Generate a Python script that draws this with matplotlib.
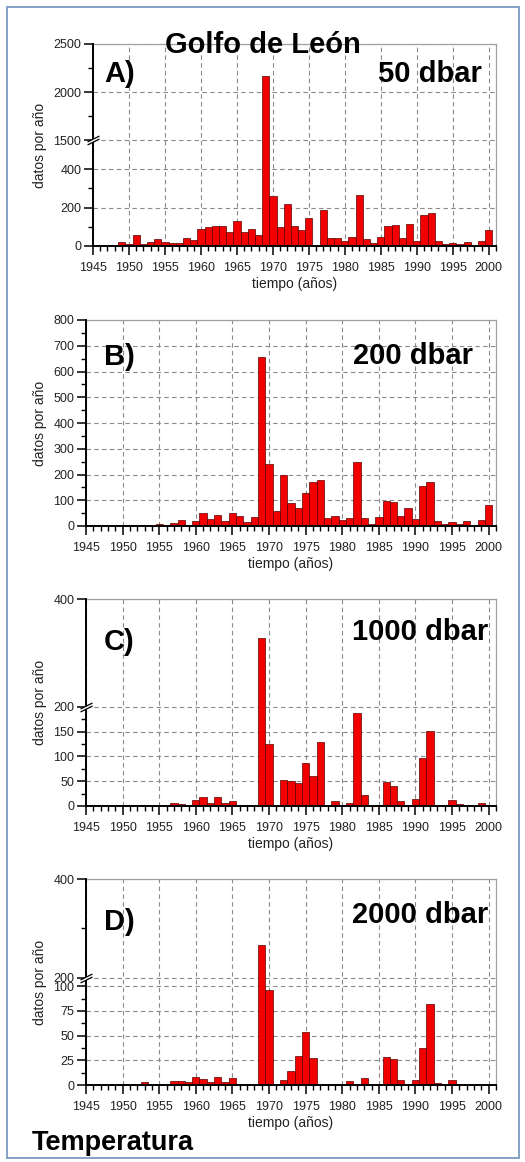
import numpy as np
import matplotlib
matplotlib.use('Agg')
import matplotlib.pyplot as plt
from matplotlib.patches import Rectangle
from matplotlib.path import Path
from matplotlib.ticker import FixedLocator, MultipleLocator
from matplotlib import transforms

plt.rcParams['font.family'] = ['Liberation Sans', 'DejaVu Sans']

years = np.arange(1945, 2001)

# datos por año (1945..2000)
dbar_50 = [0, 0, 0, 5, 21, 12, 57, 11, 21, 37,
           19, 14, 18, 39, 30, 87, 99, 103, 103, 73,
           131, 73, 87, 57, 2170, 262, 100, 220, 104, 81,
           143, 0, 186, 42, 42, 25, 48, 263, 34, 16,
           48, 106, 110, 41, 113, 27, 161, 173, 28, 11,
           16, 11, 21, 0, 27, 85]
dbar_200 = [0, 0, 0, 0, 0, 0, 0, 0, 4, 0,
            8, 0, 12, 25, 0, 21, 52, 29, 42, 21,
            52, 40, 17, 36, 658, 242, 60, 200, 88, 71,
            127, 170, 178, 31, 40, 23, 30, 248, 31, 6,
            35, 99, 92, 39, 68, 26, 155, 172, 21, 9,
            16, 9, 20, 0, 25, 83]
dbar_1000 = [0, 0, 0, 0, 0, 0, 0, 2, 3, 0,
             0, 0, 7, 5, 3, 12, 19, 6, 19, 6,
             10, 3, 0, 1, 328, 125, 0, 52, 51, 47,
             86, 60, 130, 0, 11, 0, 6, 188, 22, 0,
             2, 49, 40, 10, 0, 14, 97, 151, 3, 0,
             12, 4, 2, 1, 6, 0]
dbar_2000 = [0, 0, 0, 0, 0, 0, 0, 1, 3, 0,
             1, 0, 4, 4, 3, 8, 6, 3, 8, 3,
             7, 0, 0, 0, 267, 96, 0, 5, 14, 29,
             54, 27, 0, 0, 1, 0, 4, 0, 7, 0,
             0, 28, 26, 5, 0, 5, 37, 82, 2, 0,
             5, 0, 0, 0, 0, 0]

W, H = 525, 1162
fig = plt.figure(figsize=(W / 100, H / 100), dpi=100)


def px_axes(left, top, right, bottom):
    return fig.add_axes([left / W, 1 - bottom / H, (right - left) / W, (bottom - top) / H])


def broken(a, b, gap, r):
    # piecewise linear y scale: 0..a as is, a..b squeezed into gap, above b times r
    xp = np.array([-1e4, a, b, 1e5])
    fp = np.array([-1e4, a, a + gap, a + gap + (1e5 - b) * r])
    return (lambda y: np.interp(y, xp, fp)), (lambda t: np.interp(t, fp, xp))


line_path = Path([(-6, -4.5), (6, 1.5), (-6, -1.5), (6, 4.5)],
                 [Path.MOVETO, Path.LINETO, Path.MOVETO, Path.LINETO])
fill_path = Path([(-6, -4.5), (6, 1.5), (6, 4.5), (-6, -1.5), (-6, -4.5)])


def break_mark(ax, yval):
    tr = transforms.blended_transform_factory(ax.transAxes, ax.transData)
    ax.plot([0], [yval], transform=tr, marker=fill_path, ms=8.6, mfc='white', mec='white',
            mew=0, clip_on=False, zorder=10)
    ax.plot([0], [yval], transform=tr, marker=line_path, ms=8.6, mec='black',
            mew=0.9, clip_on=False, zorder=11, ls='none')


panels = [
    dict(data=dbar_50, box=(93, 44, 496, 246), scale=(550, 1500, 0.001, 0.5), ylim=(0, 2500),
         major=[0, 200, 400, 1500, 2000, 2500], minor=[100, 300, 1750, 2250], brk=1500,
         tag='A)', tag_y=82, depth='50 dbar', depth_xy=(482, 82)),
    dict(data=dbar_200, box=(86, 320, 496, 526), scale=None, ylim=(0, 800),
         major=list(range(0, 801, 100)), minor=list(range(50, 800, 100)), brk=None,
         tag='B)', tag_y=365, depth='200 dbar', depth_xy=(473, 364)),
    dict(data=dbar_1000, box=(86, 599, 496, 806), scale=(200, 200.001, 0.001, 1.09), ylim=(0, 400),
         major=[0, 50, 100, 150, 200, 400], minor=[25, 75, 125, 175], brk=200,
         tag='C)', tag_y=650, depth='1000 dbar', depth_xy=(488, 640)),
    dict(data=dbar_2000, box=(86, 879, 496, 1085), scale=(100, 200, 8.5, 0.5), ylim=(0, 400),
         major=[0, 25, 50, 75, 100, 200, 400], minor=[12.5, 37.5, 62.5, 87.5, 300], brk=200,
         tag='D)', tag_y=930, depth='2000 dbar', depth_xy=(488, 923)),
]

for p in panels:
    ax = px_axes(*p['box'])
    if p['scale'] is not None:
        ax.set_yscale('function', functions=broken(*p['scale']))
    ax.bar(years, p['data'], width=1.0, color='#f20000', edgecolor='#5a0000', linewidth=0.5, zorder=3)
    ax.set_xlim(1945, 2001)
    ax.set_ylim(*p['ylim'])
    ax.xaxis.set_major_locator(FixedLocator(list(range(1945, 2001, 5))))
    ax.xaxis.set_minor_locator(MultipleLocator(1))
    ax.yaxis.set_major_locator(FixedLocator(p['major']))
    ax.yaxis.set_minor_locator(FixedLocator(p['minor']))
    ax.yaxis.set_major_formatter(plt.FuncFormatter(lambda v, pos: '%d' % v))
    ax.set_axisbelow(True)
    ax.grid(True, which='major', color='#8a8a8a', linestyle=(0, (4, 3)), linewidth=0.8)
    for s in ('top', 'right'):
        ax.spines[s].set_color('#a0a0a0')
        ax.spines[s].set_linewidth(0.9)
    for s in ('left', 'bottom'):
        ax.spines[s].set_color('black')
        ax.spines[s].set_linewidth(1.4)
        ax.spines[s].set_zorder(5)
    ax.tick_params(axis='both', which='major', direction='out', length=6.5, width=1.1,
                   labelsize=9, labelcolor='#222222', pad=2)
    ax.tick_params(axis='both', which='minor', direction='out', length=3.5, width=1.0)
    ax.tick_params(axis='x', which='major', pad=5)
    ax.set_xlabel('tiempo (años)', fontsize=10, color='#222222', labelpad=2)
    ax.set_ylabel('datos por año', fontsize=10, color='#222222')
    left, top, right, bottom = p['box']
    ax.yaxis.set_label_coords((47 - left) / (right - left), 0.5)
    if p['brk'] is not None:
        break_mark(ax, p['brk'])
    fig.text(104 / W, 1 - p['tag_y'] / H, p['tag'], fontsize=21, fontweight='bold',
             ha='left', va='baseline')
    fig.text(p['depth_xy'][0] / W, 1 - p['depth_xy'][1] / H, p['depth'], fontsize=21,
             fontweight='bold', ha='right', va='baseline')

fig.text(263 / W, 1 - 53 / H, 'Golfo de León', fontsize=21, fontweight='bold',
         ha='center', va='baseline')
fig.text(32 / W, 1 - 1150 / H, 'Temperatura', fontsize=19.5, fontweight='bold',
         ha='left', va='baseline')

fig.add_artist(Rectangle((7 / W, 1 - 1158 / H), (519 - 7) / W, (1158 - 7) / H,
                         transform=fig.transFigure, fill=False, edgecolor='#7b9bc0', linewidth=1.3))

fig.savefig('out.png', dpi=100)
